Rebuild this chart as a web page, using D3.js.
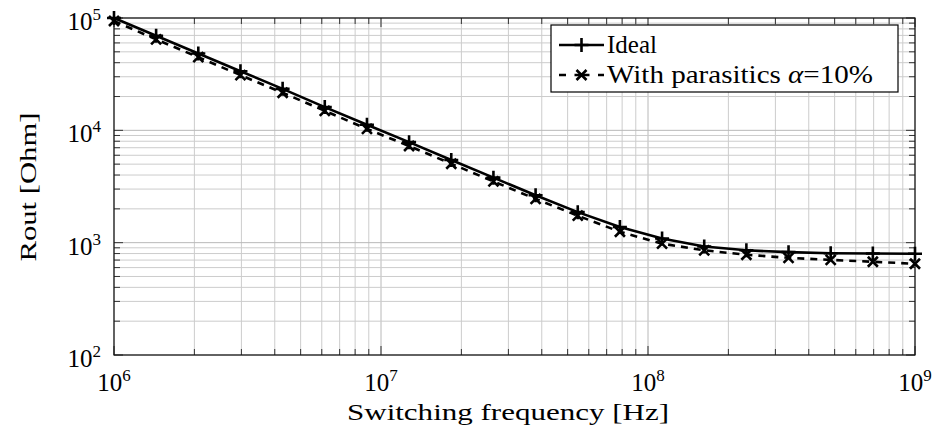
<!DOCTYPE html>
<html>
<head>
<meta charset="utf-8">
<script src="https://cdn.jsdelivr.net/npm/d3@7"></script>
<style>
  html, body { margin: 0; padding: 0; background: #fff; }
  svg { display: block; }
</style>
</head>
<body>
<svg id="chart" width="936" height="442"></svg>
<script>
// ---- data ----
const frequencies = [1.000e6, 1.438e6, 2.069e6, 2.976e6, 4.281e6, 6.158e6, 8.859e6,
  1.274e7, 1.833e7, 2.637e7, 3.793e7, 5.456e7, 7.848e7, 1.129e8, 1.624e8,
  2.336e8, 3.360e8, 4.833e8, 6.952e8, 1.000e9];
const idealValues = [100000, 69500, 48300, 33600, 23400, 16100, 11200, 7850, 5450,
  3790, 2640, 1870, 1380, 1090, 925, 855, 823, 806, 800, 796];
const parasiticValues = [94000, 64500, 44800, 31000, 21600, 14900, 10300, 7250, 5040,
  3510, 2450, 1740, 1250, 980, 855, 780, 733, 703, 676, 649];
const seriesNames = ["Ideal", "With parasitics"];
const xTickValues = [1e6, 1e7, 1e8, 1e9];
const xTickExponents = ["6", "7", "8", "9"];
const yTickValues = [1e2, 1e3, 1e4, 1e5];
const yTickExponents = ["2", "3", "4", "5"];
const xLabel = "Switching frequency [Hz]";
const yLabel = "Rout [Ohm]";

const FONT = "'Liberation Serif', 'Times New Roman', Tinos, 'DejaVu Serif', 'Noto Serif', serif";

// ---- layout ----
const svg = d3.select("#chart");
const L = 114, R = 915, T = 18, B = 355;
const x = d3.scaleLog().domain([1e6, 1e9]).range([L, R]);
const y = d3.scaleLog().domain([1e2, 1e5]).range([B, T]);
const isMajor = v => Math.abs(Math.log10(v) - Math.round(Math.log10(v))) < 1e-9;

const xAll = x.ticks();
const yAll = y.ticks();

// grid
const grid = svg.append("g");
grid.selectAll("line.gx").data(xAll).join("line")
  .attr("x1", d => x(d)).attr("x2", d => x(d)).attr("y1", T).attr("y2", B)
  .attr("stroke", d => isMajor(d) ? "#b8b8b8" : "#cccccc").attr("stroke-width", 1);
grid.selectAll("line.gy").data(yAll).join("line")
  .attr("y1", d => y(d)).attr("y2", d => y(d)).attr("x1", L).attr("x2", R)
  .attr("stroke", d => isMajor(d) ? "#b8b8b8" : "#cccccc").attr("stroke-width", 1);

// ticks (inside, all four sides)
const tk = svg.append("g").attr("stroke", "#333").attr("stroke-width", 1);
xAll.forEach(d => {
  const len = isMajor(d) ? 9 : 6;
  tk.append("line").attr("x1", x(d)).attr("x2", x(d)).attr("y1", B).attr("y2", B - len);
  tk.append("line").attr("x1", x(d)).attr("x2", x(d)).attr("y1", T).attr("y2", T + len);
});
yAll.forEach(d => {
  const len = isMajor(d) ? 9 : 6;
  tk.append("line").attr("y1", y(d)).attr("y2", y(d)).attr("x1", L).attr("x2", L + len);
  tk.append("line").attr("y1", y(d)).attr("y2", y(d)).attr("x1", R).attr("x2", R - len);
});

// frame
svg.append("rect").attr("x", L).attr("y", T).attr("width", R - L).attr("height", B - T)
  .attr("fill", "none").attr("stroke", "#111").attr("stroke-width", 1.2);

// tick labels
function powLabel(sel, exp) {
  sel.append("tspan").text("10");
  sel.append("tspan").attr("font-size", 17).attr("dy", -10).text(exp);
}
xTickValues.forEach((v, i) => {
  const t = svg.append("text").attr("x", x(v)).attr("y", 391)
    .attr("text-anchor", "middle").attr("font-size", 25).attr("font-family", FONT);
  powLabel(t, xTickExponents[i]);
});
yTickValues.forEach((v, i) => {
  const t = svg.append("text").attr("x", 101).attr("y", y(v) + 12)
    .attr("text-anchor", "end").attr("font-size", 25).attr("font-family", FONT);
  powLabel(t, yTickExponents[i]);
});

// axis labels
svg.append("text").attr("x", 508).attr("y", 420).attr("text-anchor", "middle")
  .attr("font-size", 24).attr("font-family", FONT)
  .attr("textLength", 322).attr("lengthAdjust", "spacingAndGlyphs")
  .text(xLabel);
svg.append("text").attr("transform", "translate(36,187) rotate(-90)")
  .attr("text-anchor", "middle").attr("font-size", 24).attr("font-family", FONT)
  .attr("textLength", 149).attr("lengthAdjust", "spacingAndGlyphs").text(yLabel);

// lines
const line = d3.line().x(d => x(d[0])).y(d => y(d[1]));
const idealPts = frequencies.map((f, i) => [f, idealValues[i]]);
const parPts = frequencies.map((f, i) => [f, parasiticValues[i]]);

const plot = svg.append("g");
plot.append("path").datum(parPts).attr("d", line).attr("fill", "none")
  .attr("stroke", "#000").attr("stroke-width", 2.6).attr("stroke-dasharray", "7,6");
plot.append("path").datum(idealPts).attr("d", line).attr("fill", "none")
  .attr("stroke", "#000").attr("stroke-width", 2.6);

function plusMarker(g, cx, cy) {
  g.append("path").attr("d", `M${cx - 7},${cy}H${cx + 7}M${cx},${cy - 7}V${cy + 7}`)
    .attr("stroke", "#000").attr("stroke-width", 2.6).attr("fill", "none");
}
function crossMarker(g, cx, cy) {
  const s = 5;
  g.append("path").attr("d", `M${cx - s},${cy - s}L${cx + s},${cy + s}M${cx - s},${cy + s}L${cx + s},${cy - s}`)
    .attr("stroke", "#000").attr("stroke-width", 2.6).attr("fill", "none");
}
parPts.forEach(d => crossMarker(plot, x(d[0]), y(d[1])));
idealPts.forEach(d => plusMarker(plot, x(d[0]), y(d[1])));

// legend
const lg = svg.append("g");
lg.append("rect").attr("x", 551).attr("y", 25).attr("width", 347).attr("height", 67)
  .attr("fill", "#fff").attr("stroke", "#000").attr("stroke-width", 1.2);
const ly1 = 45, ly2 = 75;
lg.append("line").attr("x1", 559).attr("x2", 604).attr("y1", ly1).attr("y2", ly1)
  .attr("stroke", "#000").attr("stroke-width", 2.6);
plusMarker(lg, 581.5, ly1);
lg.append("line").attr("x1", 559).attr("x2", 604).attr("y1", ly2).attr("y2", ly2)
  .attr("stroke", "#000").attr("stroke-width", 2.6).attr("stroke-dasharray", "7,8.5,15,8.5,7");
crossMarker(lg, 581.5, ly2);
lg.append("text").attr("x", 607).attr("y", ly1 + 8).attr("font-size", 25)
  .attr("font-family", FONT).text(seriesNames[0]);
const t2 = lg.append("text").attr("x", 607).attr("y", ly2 + 8).attr("font-size", 25)
  .attr("font-family", FONT)
  .attr("textLength", 266).attr("lengthAdjust", "spacingAndGlyphs");
t2.append("tspan").text(seriesNames[1] + " ");
t2.append("tspan").attr("font-style", "italic").text("α");
t2.append("tspan").text("=10%");
</script>
</body>
</html>
